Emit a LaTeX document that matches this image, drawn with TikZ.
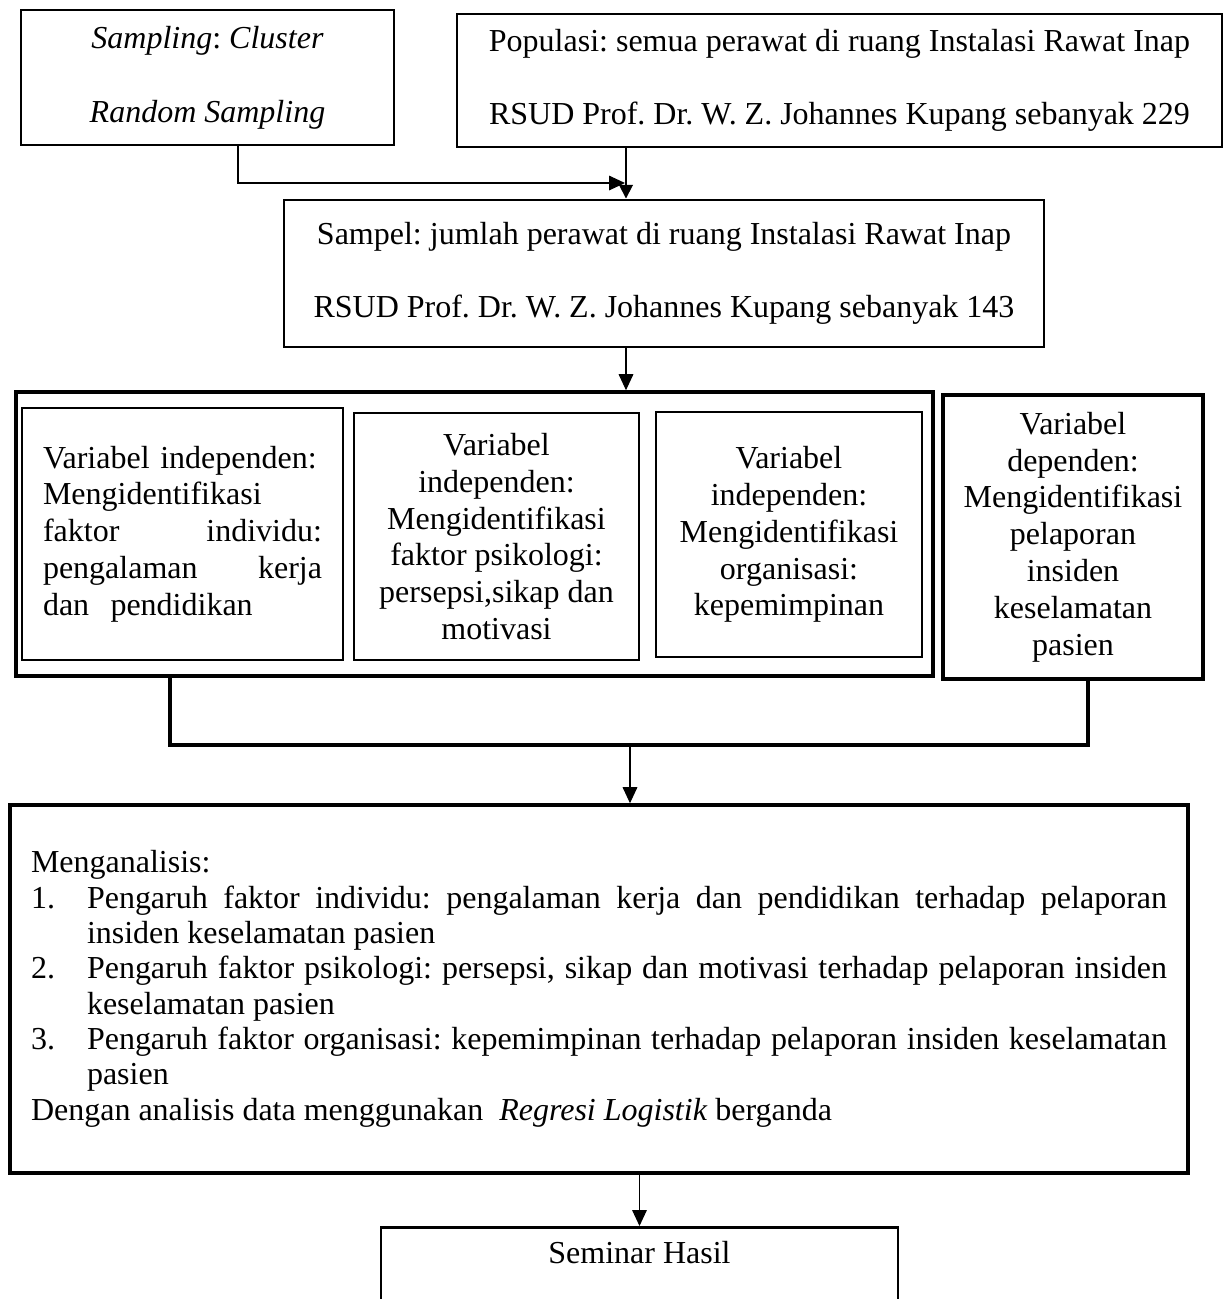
\documentclass[tikz,border=0pt]{standalone}
\usepackage{fontspec}
\setmainfont{Liberation Serif}
\usetikzlibrary{arrows.meta,positioning}

\newcommand{\pxlen}{0.375pt}
\newcommand{\bodyfont}{\fontsize{12}{13.8}\selectfont\frenchspacing}
\newcommand{\widefont}{\fontsize{12}{27.6}\selectfont\frenchspacing}

\begin{document}
\begin{tikzpicture}[x=0.375pt, y=-0.375pt,
  box/.style={draw, line width=1pt, align=center, font=\bodyfont},
  widebox/.style={box, font=\widefont},
  heavybox/.style={box, line width=1.35pt},
  link/.style={line width=0.4pt, -{Triangle[length=6pt,width=5.5pt]}},
  boldlink/.style={line width=1.1pt, -{Triangle[length=5.2pt,width=5pt]}},
  joinline/.style={line width=1.2pt}]

  \clip (0,0) rectangle (1227,1299);

  % Top row
  \node[widebox, minimum width=373*\pxlen, minimum height=135*\pxlen] (samp) at (207.5,77.5)
    {\textit{Sampling}: \textit{Cluster}\\\textit{Random Sampling}};
  \node[widebox, minimum width=765*\pxlen, minimum height=133*\pxlen] (pop) at (839.5,80.5)
    {Populasi: semua perawat di ruang Instalasi Rawat Inap\\RSUD Prof. Dr. W. Z. Johannes Kupang sebanyak 229};
  \node[widebox, minimum width=760*\pxlen, minimum height=147*\pxlen] (sampel) at (664,273.5)
    {Sampel: jumlah perawat di ruang Instalasi Rawat Inap\\RSUD Prof. Dr. W. Z. Johannes Kupang sebanyak 143};

  \coordinate (meet) at (626,183);
  \draw[link] ([xshift=30.5*\pxlen]samp.south) |- ([xshift=-1*\pxlen]meet);
  \draw[boldlink] (pop.south -| meet) -- (sampel.north -| meet);

  % Variables
  \node[heavybox, minimum width=917*\pxlen, minimum height=284*\pxlen] (grp) at (474.5,534) {};
  \node[box, minimum width=321*\pxlen, minimum height=252*\pxlen, text width=279*\pxlen, align=left] (indiv) at (182.5,534)
    {Variabel independen:\\Mengidentifikasi\\faktor\hfill individu:\\pengalaman\hfill kerja\\dan\ \ pendidikan};
  \node[box, minimum width=285*\pxlen, minimum height=247*\pxlen] (psiko) at (496.5,536.5)
    {Variabel\\independen:\\Mengidentifikasi\\faktor psikologi:\\persepsi,sikap dan\\motivasi};
  \node[box, minimum width=266*\pxlen, minimum height=245*\pxlen] (orga) at (789,534.5)
    {Variabel\\independen:\\Mengidentifikasi\\organisasi:\\kepemimpinan};
  \node[box, line width=1.15pt, minimum width=260*\pxlen, minimum height=284*\pxlen] (dep) at (1073,537)
    {Variabel\\dependen:\\Mengidentifikasi\\pelaporan\\insiden\\keselamatan\\pasien};

  \draw[link] (sampel.south -| meet) -- (grp.north -| meet);

  \coordinate (joinL) at (170,745);
  \coordinate (joinR) at (1088,745);
  \coordinate (joinM) at (630,745);
  \draw[joinline] (grp.south -| joinL) -- (joinL) -- (joinR) -- (dep.south -| joinR);

  % Analysis
  \node[heavybox, minimum width=1178*\pxlen, minimum height=368*\pxlen, text width=1136*\pxlen, align=justify,
        font=\fontsize{12}{13.25}\selectfont\frenchspacing] (anal) at (599,989)
    {\parindent=0pt
     Menganalisis:\par
     \hangindent=21pt\hangafter=1 \makebox[21pt][l]{1.}Pengaruh faktor individu: pengalaman kerja dan pendidikan terhadap pelaporan\linebreak insiden keselamatan pasien\par
     \hangindent=21pt\hangafter=1 \makebox[21pt][l]{2.}Pengaruh faktor psikologi: persepsi, sikap dan motivasi terhadap pelaporan insiden\linebreak keselamatan pasien\par
     \hangindent=21pt\hangafter=1 \makebox[21pt][l]{3.}Pengaruh faktor organisasi: kepemimpinan terhadap pelaporan insiden keselamatan\linebreak pasien\par
     Dengan analisis data menggunakan\ \ \textit{Regresi Logistik} berganda};

  \draw[link] (joinM) -- (anal.north -| joinM);

  % Result
  \node[box, anchor=north, minimum width=517*\pxlen, inner sep=0pt, text height=13.5pt, text depth=30pt] (sem) at (639.5,1226)
    {Seminar Hasil};
  \draw[link] (anal.south -| sem.north) -- (sem.north);

\end{tikzpicture}
\end{document}
